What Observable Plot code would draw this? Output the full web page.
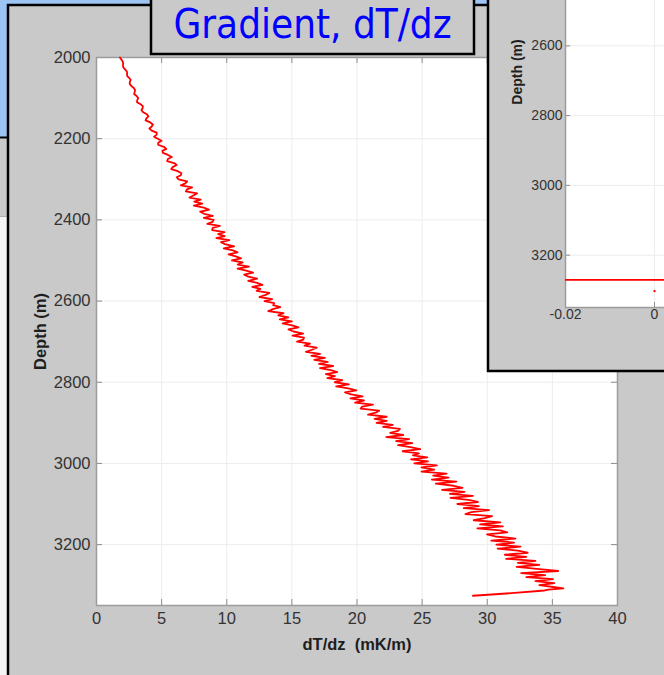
<!DOCTYPE html>
<html>
<head>
<meta charset="utf-8">
<script src="https://cdn.jsdelivr.net/npm/d3@7"></script>
<script src="https://cdn.jsdelivr.net/npm/@observablehq/plot@0.6"></script>
<style>
html, body { margin: 0; padding: 0; background: #f4f4f4; }
#stage { position: relative; width: 664px; height: 675px; overflow: hidden; background: #f4f4f4; }
.abs { position: absolute; box-sizing: border-box; }
#blue { left: 0; top: 0; width: 490px; height: 138px; background: #9dc4f3; }
#leftpanel { left: 0; top: 137px; width: 10px; height: 80px; background: #c9c9c9; border-bottom: 1px solid #b0b0b0; }
#mainpanel { left: 8px; top: 5px; width: 700px; height: 700px; background: #c9c9c9; }
#mainchart { left: 0; top: 0; width: 664px; height: 675px; }
#rightwrap { left: 488px; top: 0; width: 176px; height: 372px; overflow: hidden; background: #c9c9c9; }
#rightchart { position: absolute; left: 0; top: -200px; width: 400px; height: 572px; }
#overlay { left: 0; top: 0; pointer-events: none; }
svg { max-width: none !important; }
g[aria-label="x-axis label"] text, g[aria-label="y-axis label"] text,
g[aria-label="x-axis label"], g[aria-label="y-axis label"] { font-weight: bold; fill: #1e1e1e; }
</style>
</head>
<body>
<div id="stage">
  <div id="blue" class="abs"></div>
  <div id="leftpanel" class="abs"></div>
  <div id="mainpanel" class="abs"></div>
  <div id="mainchart" class="abs"></div>
  <div id="rightwrap" class="abs"><div id="rightchart"></div></div>
  <svg id="overlay" class="abs" width="664" height="675" xmlns="http://www.w3.org/2000/svg">
    <line x1="0" y1="137.5" x2="8" y2="137.5" stroke="#000" stroke-width="2"/>
    <line x1="8" y1="4" x2="8" y2="675" stroke="#000" stroke-width="2.5"/>
    <line x1="7" y1="5" x2="488" y2="5" stroke="#000" stroke-width="2.5"/>
    <line x1="488" y1="0" x2="488" y2="372" stroke="#000" stroke-width="2.5"/>
    <line x1="487" y1="371" x2="664" y2="371" stroke="#000" stroke-width="2.5"/>
    <rect x="151" y="-5" width="323" height="59" fill="#c9c9c9" stroke="#000" stroke-width="2.5"/>
    <text id="title" x="312.5" y="37.5" text-anchor="middle" fill="#0000ff"
      style="font-family: 'DejaVu Sans Condensed', 'DejaVu Sans', sans-serif; font-stretch: condensed; font-size: 40px;">Gradient, dT/dz</text>
  </svg>
</div>
<script>
// ---- Main chart data: temperature gradient vs depth ----
const xTicks = [0, 5, 10, 15, 20, 25, 30, 35, 40];
const yTicks = [2000, 2200, 2400, 2600, 2800, 3000, 3200];
const xDomain = [0, 40];
const yDomain = [2000, 3350];

const depth = [
  2000, 2005, 2010, 2015, 2020, 2025, 2030, 2035, 2040, 2045,
  2050, 2055, 2060, 2065, 2070, 2075, 2080, 2085, 2090, 2095,
  2100, 2105, 2110, 2115, 2120, 2125, 2130, 2135, 2140, 2145,
  2150, 2155, 2160, 2165, 2170, 2175, 2180, 2185, 2190, 2195,
  2200, 2205, 2210, 2215, 2220, 2225, 2230, 2235, 2240, 2245,
  2250, 2255, 2260, 2265, 2270, 2275, 2280, 2285, 2290, 2295,
  2300, 2305, 2310, 2315, 2320, 2325, 2330, 2335, 2340, 2345,
  2350, 2355, 2360, 2365, 2370, 2375, 2380, 2385, 2390, 2395,
  2400, 2405, 2410, 2415, 2420, 2425, 2430, 2435, 2440, 2445,
  2450, 2455, 2460, 2465, 2470, 2475, 2480, 2485, 2490, 2495,
  2500, 2505, 2510, 2515, 2520, 2525, 2530, 2535, 2540, 2545,
  2550, 2555, 2560, 2565, 2570, 2575, 2580, 2585, 2590, 2595,
  2600, 2605, 2610, 2615, 2620, 2625, 2630, 2635, 2640, 2645,
  2650, 2655, 2660, 2665, 2670, 2675, 2680, 2685, 2690, 2695,
  2700, 2705, 2710, 2715, 2720, 2725, 2730, 2735, 2740, 2745,
  2750, 2755, 2760, 2765, 2770, 2775, 2780, 2785, 2790, 2795,
  2800, 2805, 2810, 2815, 2820, 2825, 2830, 2835, 2840, 2845,
  2850, 2855, 2860, 2865, 2870, 2875, 2880, 2885, 2890, 2895,
  2900, 2905, 2910, 2915, 2920, 2925, 2930, 2935, 2940, 2945,
  2950, 2955, 2960, 2965, 2970, 2975, 2980, 2985, 2990, 2995,
  3000, 3005, 3010, 3015, 3020, 3025, 3030, 3035, 3040, 3045,
  3050, 3055, 3060, 3065, 3070, 3075, 3080, 3085, 3090, 3095,
  3100, 3105, 3110, 3115, 3120, 3125, 3130, 3135, 3140, 3145,
  3150, 3155, 3160, 3165, 3170, 3175, 3180, 3185, 3190, 3195,
  3200, 3205, 3210, 3215, 3220, 3225, 3230, 3235, 3240, 3245,
  3250, 3255, 3260, 3265, 3270, 3275, 3280, 3285, 3290, 3295,
  3300, 3305, 3308, 3311, 3313, 3319, 3326
];

const gradient = [
  1.80, 1.91, 2.01, 2.05, 2.03, 2.07, 2.21, 2.34, 2.35, 2.35,
  2.50, 2.62, 2.56, 2.55, 2.67, 2.86, 2.96, 2.93, 2.89, 3.08,
  3.20, 3.13, 3.11, 3.38, 3.56, 3.54, 3.45, 3.59, 3.87, 3.98,
  3.83, 3.77, 4.13, 4.33, 4.24, 4.06, 4.24, 4.62, 4.62, 4.42,
  4.70, 4.99, 4.74, 4.73, 5.17, 5.36, 5.06, 5.10, 5.49, 5.78,
  5.48, 5.42, 5.96, 6.15, 5.85, 5.74, 6.23, 6.52, 6.47, 6.16,
  6.30, 6.96, 6.82, 6.48, 7.34, 6.95, 6.86, 7.72, 7.43, 7.14,
  8.00, 7.51, 8.12, 7.48, 8.24, 8.65, 7.96, 8.27, 8.93, 8.24,
  9.00, 8.91, 8.51, 9.47, 8.92, 8.88, 9.83, 9.34, 9.84, 9.20,
  10.20, 9.56, 9.86, 10.57, 9.77, 10.48, 10.83, 10.14, 10.69, 11.10,
  10.40, 11.22, 10.84, 11.71, 10.83, 11.50, 12.02, 11.34, 11.66, 12.33,
  11.65, 12.32, 12.74, 11.96, 12.58, 12.30, 13.27, 12.99, 12.51, 13.48,
  12.90, 13.64, 13.57, 14.11, 13.54, 13.18, 14.36, 13.95, 14.73, 14.07,
  15.00, 14.29, 15.02, 15.51, 14.74, 15.13, 15.86, 15.05, 15.93, 15.87,
  15.40, 16.39, 15.97, 16.91, 16.54, 16.08, 17.16, 16.50, 17.53, 16.72,
  17.75, 17.09, 18.17, 17.16, 17.99, 18.48, 17.61, 18.30, 17.73, 18.87,
  18.30, 19.38, 18.40, 19.33, 19.95, 19.08, 19.55, 20.43, 19.50, 20.53,
  19.85, 21.23, 20.40, 20.28, 21.70, 21.43, 20.85, 22.28, 21.35, 22.28,
  21.50, 22.75, 22.00, 23.30, 23.15, 22.55, 23.55, 22.25, 24.00, 23.00,
  24.25, 23.15, 24.10, 24.85, 23.50, 24.75, 24.30, 25.40, 24.15, 25.45,
  24.40, 26.13, 24.95, 25.93, 24.95, 26.88, 25.85, 27.03, 25.75, 27.63,
  26.05, 27.43, 28.10, 26.53, 28.25, 27.13, 28.90, 27.18, 28.55, 29.28,
  27.70, 29.35, 28.19, 30.14, 28.78, 28.33, 30.37, 29.82, 28.96, 31.01,
  29.45, 31.20, 29.24, 30.99, 31.53, 29.98, 30.62, 32.17, 30.31, 32.06,
  30.70, 32.55, 30.80, 32.35, 33.10, 31.35, 33.00, 31.45, 33.70, 32.35,
  34.00, 32.25, 33.80, 35.45, 32.60, 34.45, 33.00, 35.05, 33.70, 35.15,
  34.00, 35.20, 35.85, 34.70, 34.40, 32.10, 28.90
];

// ---- Partially visible second panel (right) ----
const x2Ticks = [-0.02, 0];
const y2Ticks = [2600, 2800, 3000, 3200];
const x2Domain = [-0.02, 0.04];
const panel2X = [-0.03, 0.05];
const panel2Depth = [3271, 3271];
const dot2X = [0];
const dot2Depth = [3303];

const data = depth.map((d, i) => ({depth: d, grad: gradient[i]}));
const panel2 = panel2X.map((x, i) => ({x, depth: panel2Depth[i]}));
const dots2 = dot2X.map((x, i) => ({x, depth: dot2Depth[i]}));

const fontFam = "'Liberation Sans', Arial, Helvetica, sans-serif";
const gridCol = "#ececec";
const tickCol = "#8c8c8c";
const frameCol = "#9c9c9c";

// Main chart
const W = 664, H = 675, mL = 96, mR = 47, mT = 57, mB = 70;
const pw = W - mL - mR, ph = H - mT - mB;
const chart = Plot.plot({
  width: W, height: H,
  marginLeft: mL, marginRight: mR, marginTop: mT, marginBottom: mB,
  style: {background: "none", fontFamily: fontFam, fontSize: "16.5px", color: "#333", overflow: "visible", maxWidth: "none"},
  x: {domain: xDomain},
  y: {domain: yDomain, reverse: true},
  marks: [
    Plot.frame({fill: "#ffffff", stroke: null}),
    Plot.ruleX(xTicks, {stroke: gridCol}),
    Plot.ruleY(yTicks, {stroke: gridCol}),
    Plot.tickX(xTicks, {x: d => d, insetTop: ph - 6, stroke: tickCol}),
    Plot.tickX(xTicks, {x: d => d, insetBottom: ph - 6, stroke: tickCol}),
    Plot.tickY(yTicks, {y: d => d, insetRight: pw - 6, stroke: tickCol}),
    Plot.tickY(yTicks, {y: d => d, insetLeft: pw - 6, stroke: tickCol}),
    Plot.frame({stroke: frameCol, strokeWidth: 1.5}),
    Plot.line(data, {x: "grad", y: "depth", stroke: "#ff0000", strokeWidth: 1.8, strokeLinejoin: "round"}),
    Plot.axisX(xTicks, {tickSize: 0, tickPadding: 7, tickFormat: d => String(d),
      label: "dT/dz\u00a0 (mK/m)", labelAnchor: "center", labelOffset: 44, labelArrow: "none"}),
    Plot.axisY(yTicks, {tickSize: 0, tickPadding: 6, tickFormat: d => String(d),
      label: "Depth (m)", labelAnchor: "center", labelOffset: 62, labelArrow: "none"})
  ]
});
document.getElementById("mainchart").appendChild(chart);

// Right panel chart (mostly cropped)
const W2 = 400, H2 = 572, mL2 = 77, mR2 = 56, mT2 = 36, mB2 = 65;
const pw2 = W2 - mL2 - mR2, ph2 = H2 - mT2 - mB2;
const chart2 = Plot.plot({
  width: W2, height: H2,
  marginLeft: mL2, marginRight: mR2, marginTop: mT2, marginBottom: mB2,
  style: {background: "none", fontFamily: fontFam, fontSize: "14px", color: "#333", overflow: "visible", maxWidth: "none"},
  x: {domain: x2Domain},
  y: {domain: yDomain, reverse: true},
  marks: [
    Plot.frame({fill: "#ffffff", stroke: null}),
    Plot.ruleX(x2Ticks, {stroke: gridCol}),
    Plot.ruleY(y2Ticks, {stroke: gridCol}),
    Plot.tickX(x2Ticks, {x: d => d, insetTop: ph2 - 5, stroke: tickCol}),
    Plot.tickY(y2Ticks, {y: d => d, insetRight: pw2 - 5, stroke: tickCol}),
    Plot.frame({stroke: frameCol, strokeWidth: 1.5}),
    Plot.line(panel2, {x: "x", y: "depth", stroke: "#ff0000", strokeWidth: 1.8, clip: true}),
    Plot.dot(dots2, {x: "x", y: "depth", r: 1.2, fill: "#ff0000", stroke: null}),
    Plot.axisX(x2Ticks, {tickSize: 0, tickPadding: 2, tickFormat: d => String(d), label: null}),
    Plot.axisY(y2Ticks, {tickSize: 0, tickPadding: 3, tickFormat: d => String(d),
      label: "Depth (m)", labelAnchor: "center", labelOffset: 53, labelArrow: "none"})
  ]
});
document.getElementById("rightchart").appendChild(chart2);
</script>
</body>
</html>
